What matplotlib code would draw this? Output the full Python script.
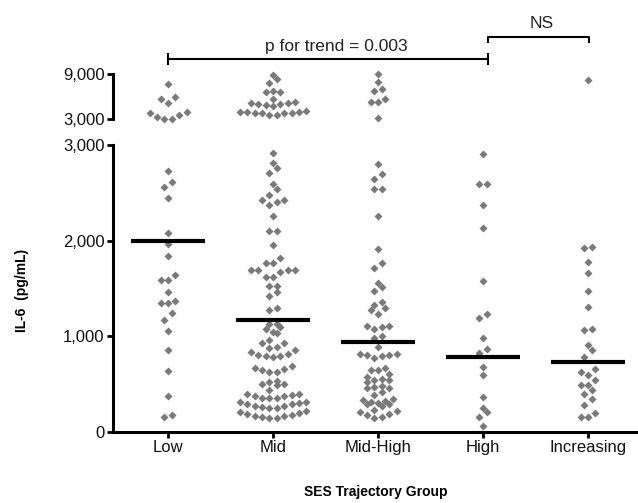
import matplotlib
matplotlib.use("Agg")
import matplotlib.pyplot as plt
import matplotlib.transforms as mtransforms
import numpy as np

plt.rcParams['font.family'] = ['Liberation Sans', 'DejaVu Sans']

# ---------------- data ----------------
groups = ['Low', 'Mid', 'Mid-High', 'High', 'Increasing']

low_vals = [2731, 2609, 2560, 2449, 2083, 1961, 1836, 1644, 1585, 1585, 1460,
            1366, 1345, 1351, 1240, 1167, 1052, 857, 634, 376, 154, 175,
            7617, 5941, 5598, 5150, 3963, 3528, 3040, 3040, 3224, 3831]

mid_vals = [2919, 2808, 2759, 2703, 2592, 2543, 2477, 2424, 2407, 2424, 2369,
            2257, 2104, 2104, 1957, 1818, 1763, 1763, 1693, 1672, 1693, 1693,
            1693, 1623, 1623, 1526, 1526, 1466, 1424, 1293, 1275,
            1101, 1125, 1132, 1076, 1048, 1031,
            927, 961, 891, 874, 927,
            853, 812, 797, 784, 797, 805, 839,
            693, 658, 630, 623, 645, 672,
            505, 526, 533, 498, 491, 436,
            394, 387, 372, 360, 352, 360, 380, 394,
            317, 303, 290, 275, 261, 247, 255, 268, 290, 310,
            215, 198, 178, 164, 150, 150, 157, 171, 191, 212,
            8764, 8236, 7788, 6733, 6600, 6561, 5678,
            5071, 4978, 4886, 4715, 4978, 5071, 5242,
            3923, 3923, 3831, 3831, 3567, 3488, 3752, 3831, 3923, 4095]

midhigh_vals = [2801, 2696, 2641, 2543, 2543, 2257, 1912, 1763, 1711, 1554, 1515,
                1477, 1362, 1327, 1293, 1275, 1237, 1111, 1104, 1097, 1076, 1006,
                979, 891, 812, 812, 805, 805, 791, 777, 672, 651, 645, 603, 575,
                554, 547, 540, 526, 484, 470, 457, 457, 415, 387, 345, 331, 324,
                310, 303, 289, 289, 275, 227, 219, 206, 185, 178, 157, 150,
                8936, 7880, 6917, 6733, 5598, 5242, 5242, 3092]

high_vals = [2905, 2592, 2592, 2376, 2135, 1581, 1188, 1230, 979, 870, 822,
             676, 592, 369, 248, 209, 154, 63]

incr_vals = [1920, 1937, 1777, 1665, 1477, 1303, 1073, 1066, 912, 857, 787,
             655, 627, 592, 543, 488, 488, 439, 397, 342, 279, 195, 154, 154,
             8144]

center_vals = [2000, 1170, 940, 787, 730]

break_val = 3000
lo_ticks = [0, 1000, 2000, 3000]
hi_ticks = [3000, 9000]
trend_text = 'p for trend = 0.003'
ns_text = 'NS'

# ---------------- layout ----------------
W, H = 638, 503
fig = plt.figure(figsize=(W / 100, H / 100), dpi=100)
L = 113 / W
R = 1.0
ax_lo = fig.add_axes([L, 1 - 432 / H, R - L, (432 - 145) / H])
ax_hi = fig.add_axes([L, 1 - 119 / H, R - L, (119 - 73.5) / H])
xlim = (-0.524, 4.476)
for a in (ax_lo, ax_hi):
    a.set_xlim(*xlim)
    a.set_facecolor('none')
ax_lo.set_ylim(lo_ticks[0], lo_ticks[-1])
ax_hi.set_ylim(hi_ticks[0], hi_ticks[-1])

ax_w_px = (R - L) * W
px_per_x = ax_w_px / (xlim[1] - xlim[0])
px_per_y_lo = (432 - 145) / (lo_ticks[-1] - lo_ticks[0])
px_per_y_hi = (119 - 73.5) / (hi_ticks[-1] - hi_ticks[0])

D_PX = 7.4   # horizontal spacing between neighbouring dots
DV_PX = 7.0  # vertical band height that forms one row


def swarm_offsets(vals, ppy):
    vals = np.asarray(vals, float)
    ypx = vals * ppy
    order = np.argsort(ypx, kind='stable')
    offs = np.zeros(len(vals))
    rows, cur, start = [], [], None
    for i in order:
        if cur and ypx[i] - start > DV_PX:
            rows.append(cur)
            cur = []
        if not cur:
            start = ypx[i]
        cur.append(i)
    if cur:
        rows.append(cur)
    for row in rows:
        n = len(row)
        slots = (np.arange(n) - (n - 1) / 2) * D_PX
        slot_order = sorted(range(n), key=lambda k: (abs(slots[k]), slots[k]))
        for idx, k in zip(row, slot_order):
            offs[idx] = slots[k] / px_per_x
    return offs


all_groups = [low_vals, mid_vals, midhigh_vals, high_vals, incr_vals]
dot_color = '#7a7a7a'
for gi, vals in enumerate(all_groups):
    v = np.asarray(vals, float)
    lo = v[v < break_val]
    hi = v[v >= break_val]
    for ax, part, ppy in ((ax_lo, lo, px_per_y_lo), (ax_hi, hi, px_per_y_hi)):
        if len(part) == 0:
            continue
        off = swarm_offsets(part, ppy)
        ax.plot(gi + off, part, linestyle='none', marker='D', ms=3.8,
                color=dot_color, mec='none', clip_on=False, zorder=3)

xpos = np.arange(len(groups))
ax_lo.hlines(center_vals, xpos - 0.35, xpos + 0.35, color='black', lw=3,
             zorder=4)

# axes styling
for ax in (ax_lo, ax_hi):
    for s in ('top', 'right'):
        ax.spines[s].set_visible(False)
    ax.spines['left'].set_linewidth(2.2)
    ax.tick_params(axis='both', direction='out', length=4, width=2,
                   labelsize=12, pad=2, labelcolor='#111111')
ax_hi.spines['bottom'].set_visible(False)
ax_hi.set_xticks([])
ax_lo.spines['bottom'].set_linewidth(2.2)

ax_lo.set_yticks(lo_ticks)
ax_lo.set_yticklabels([f'{t:,}' for t in lo_ticks])
ax_hi.set_yticks(hi_ticks)
ax_hi.set_yticklabels([f'{t:,}' for t in hi_ticks])
ax_lo.set_xticks(xpos)
ax_lo.set_xticklabels(groups)

# significance brackets
tr = mtransforms.blended_transform_factory(ax_hi.transData, fig.transFigure)


def fy(py):
    return 1 - py / H


lw_b = 1.5
ax_hi.plot([0, 3.05], [fy(59), fy(59)], color='black', lw=lw_b, transform=tr,
           clip_on=False)
for xb in (0, 3.05):
    ax_hi.plot([xb, xb], [fy(54), fy(64)], color='black', lw=lw_b,
               transform=tr, clip_on=False)
ax_hi.text(1.6, fy(47), trend_text, transform=tr, ha='center', va='center',
           fontsize=12.5, color='#222222')

ax_hi.plot([3.05, 3.05, 4.01, 4.01], [fy(42), fy(37), fy(37), fy(42)],
           color='black', lw=lw_b, transform=tr, clip_on=False)
ax_hi.text(3.56, fy(24), ns_text, transform=tr, ha='center', va='center',
           fontsize=12.5, color='#222222')

fig.text(22 / W, 1 - 290 / H, 'IL-6  (pg/mL)', rotation=90, ha='center',
         va='center', fontsize=10, fontweight='bold')
fig.text(376 / W, 1 - 492 / H, 'SES Trajectory Group', ha='center',
         va='center', fontsize=10, fontweight='bold')

fig.savefig('out.png', dpi=100)
